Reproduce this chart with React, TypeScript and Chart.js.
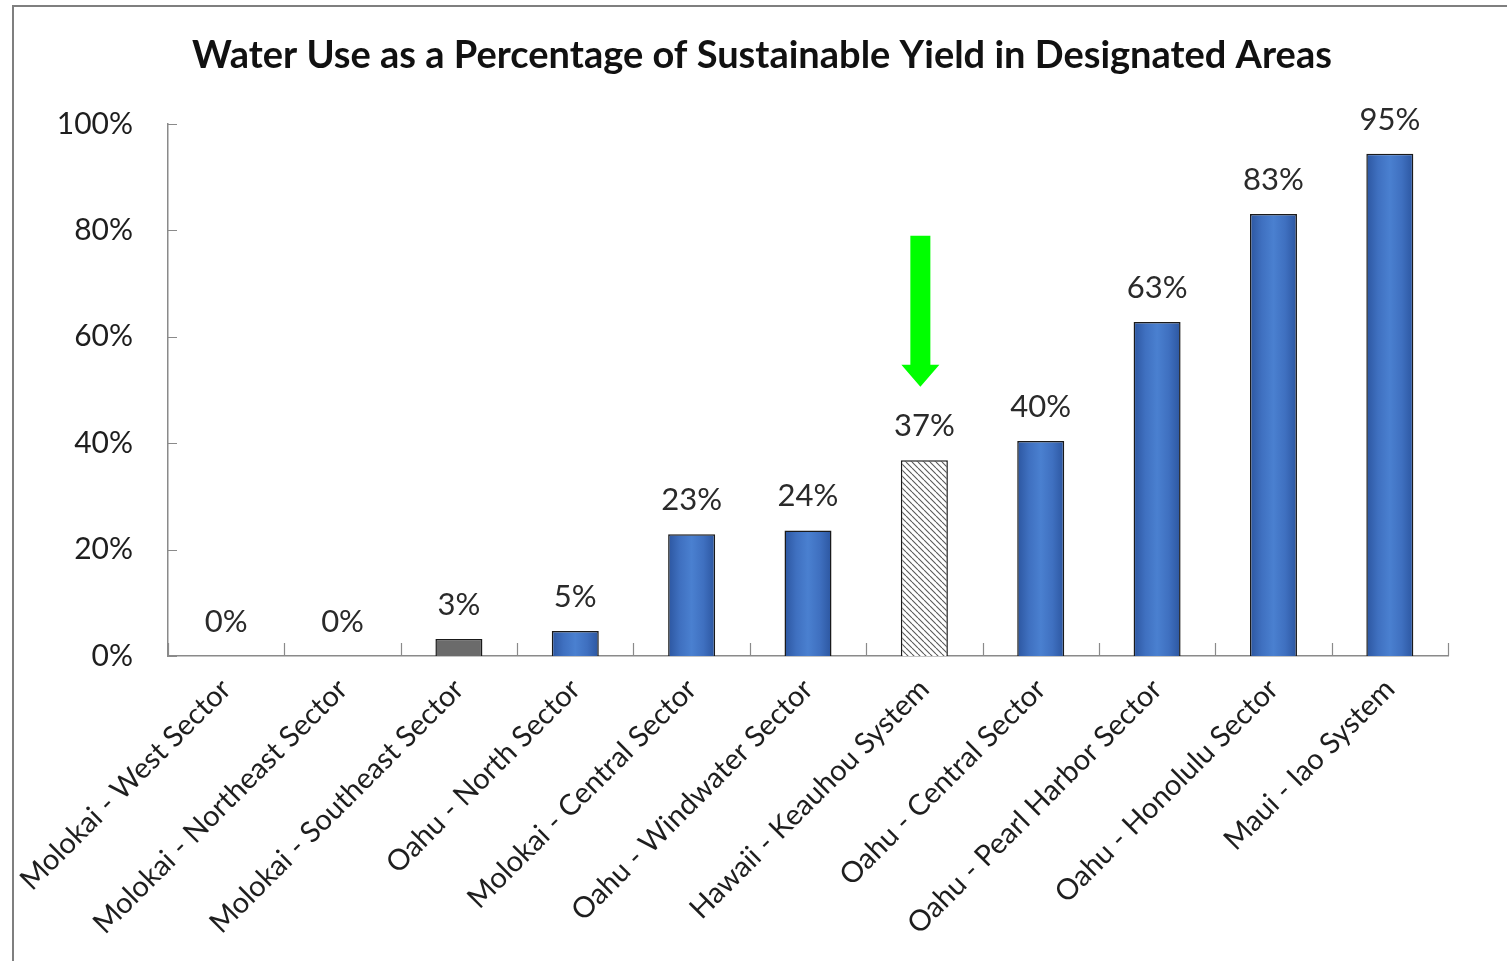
import React, { useEffect, useRef } from 'react';
import { Chart, registerables } from 'chart.js';

Chart.register(...registerables);

const TITLE = 'Water Use as a Percentage of Sustainable Yield in Designated Areas';

const categories = [
  'Molokai - West Sector',
  'Molokai - Northeast Sector',
  'Molokai - Southeast Sector',
  'Oahu - North Sector',
  'Molokai - Central Sector',
  'Oahu - Windwater Sector',
  'Hawaii - Keauhou System',
  'Oahu - Central Sector',
  'Oahu - Pearl Harbor Sector',
  'Oahu - Honolulu Sector',
  'Maui - Iao System',
];

const values = [0, 0, 3.2, 4.7, 22.9, 23.6, 36.8, 40.4, 62.8, 83.1, 94.4];

const valueLabels = ['0%', '0%', '3%', '5%', '23%', '24%', '37%', '40%', '63%', '83%', '95%'];

const barKinds = ['blue', 'blue', 'gray', 'blue', 'blue', 'blue', 'hatch', 'blue', 'blue', 'blue', 'blue'];

const yTicks = [0, 20, 40, 60, 80, 100];

const highlightIndex = 6;
const arrowTopValue = 79;
const arrowTipValue = 50.6;

const FONT = 'Lato, "Open Sans", sans-serif';
const BAR_FRACTION = 0.404;

function makeHatch(ctx: CanvasRenderingContext2D) {
  const c = document.createElement('canvas');
  c.width = 6;
  c.height = 6;
  const g = c.getContext('2d')!;
  g.fillStyle = '#ffffff';
  g.fillRect(0, 0, 6, 6);
  g.strokeStyle = '#5a5a5a';
  g.lineWidth = 1.1;
  g.beginPath();
  for (const o of [-6, 0, 6]) {
    g.moveTo(o, 0);
    g.lineTo(o + 6, 6);
  }
  g.stroke();
  return ctx.createPattern(c, 'repeat')!;
}

const decorPlugin = {
  id: 'decor',
  beforeDraw(chart: any) {
    const ctx = chart.ctx as CanvasRenderingContext2D;
    ctx.save();
    ctx.fillStyle = '#ffffff';
    ctx.fillRect(0, 0, chart.width, chart.height);
    // outer frame
    ctx.strokeStyle = '#7f7f7f';
    ctx.lineWidth = 2;
    ctx.beginPath();
    ctx.moveTo(13, chart.height);
    ctx.lineTo(13, 6);
    ctx.lineTo(chart.width, 6);
    ctx.stroke();
    // title
    ctx.fillStyle = '#111';
    ctx.font = `bold 38px ${FONT}`;
    ctx.textAlign = 'center';
    ctx.textBaseline = 'middle';
    ctx.fillText(TITLE, 762, 56);
    ctx.restore();
  },
  afterDraw(chart: any) {
    const ctx = chart.ctx as CanvasRenderingContext2D;
    const xs = chart.scales.x;
    const ys = chart.scales.y;
    const area = chart.chartArea;
    ctx.save();
    // inward ticks
    ctx.strokeStyle = '#8a8a8a';
    ctx.lineWidth = 1.2;
    ctx.beginPath();
    for (let i = 0; i <= categories.length; i++) {
      const x = Math.round(xs.getPixelForValue(i - 0.5)) + 0.5;
      ctx.moveTo(x, area.bottom);
      ctx.lineTo(x, area.bottom - 13);
    }
    for (const v of yTicks) {
      const y = Math.round(ys.getPixelForValue(v)) + 0.5;
      ctx.moveTo(area.left, y);
      ctx.lineTo(area.left + 9, y);
    }
    ctx.stroke();
    // data labels
    ctx.fillStyle = '#2a2a2a';
    ctx.font = `31px ${FONT}`;
    ctx.textAlign = 'center';
    ctx.textBaseline = 'middle';
    const meta = chart.getDatasetMeta(0);
    meta.data.forEach((bar: any, i: number) => {
      ctx.fillText(valueLabels[i], bar.x, bar.y - 34);
    });
    // green arrow
    const ax = xs.getPixelForValue(highlightIndex) - 4;
    const yTop = ys.getPixelForValue(arrowTopValue);
    const yTip = ys.getPixelForValue(arrowTipValue);
    const headH = 22;
    ctx.fillStyle = '#00ff00';
    ctx.beginPath();
    ctx.moveTo(ax - 10, yTop);
    ctx.lineTo(ax + 10, yTop);
    ctx.lineTo(ax + 10, yTip - headH);
    ctx.lineTo(ax + 19, yTip - headH);
    ctx.lineTo(ax, yTip);
    ctx.lineTo(ax - 19, yTip - headH);
    ctx.lineTo(ax - 10, yTip - headH);
    ctx.closePath();
    ctx.fill();
    ctx.restore();
  },
};

export default function App() {
  const ref = useRef<HTMLCanvasElement | null>(null);

  useEffect(() => {
    const canvas = ref.current!;
    const ctx = canvas.getContext('2d')!;
    const hatch = makeHatch(ctx);

    const fill = (c: any) => {
      const kind = barKinds[c.dataIndex];
      if (kind === 'gray') return '#6b6b6b';
      if (kind === 'hatch') return hatch;
      const xs = c.chart.scales?.x;
      if (!xs || !xs.width) return '#3f6fbf';
      const cx = xs.getPixelForValue(c.dataIndex);
      const w = (xs.width / categories.length) * BAR_FRACTION;
      const g = c.chart.ctx.createLinearGradient(cx - w / 2, 0, cx + w / 2, 0);
      g.addColorStop(0, '#2c56a0');
      g.addColorStop(0.25, '#3f70c0');
      g.addColorStop(0.5, '#4a80d0');
      g.addColorStop(0.75, '#3f70c0');
      g.addColorStop(1, '#2c56a0');
      return g;
    };

    const chart = new Chart(canvas, {
      type: 'bar',
      data: {
        labels: categories,
        datasets: [
          {
            data: values,
            backgroundColor: fill as any,
            borderColor: '#1a1a1a',
            borderWidth: 1.5,
            categoryPercentage: 1,
            barPercentage: BAR_FRACTION,
          },
        ],
      },
      options: {
        responsive: false,
        animation: false,
        layout: { padding: { top: 124, left: 0, right: 59, bottom: 0 } },
        plugins: {
          legend: { display: false },
          title: { display: false },
          tooltip: { enabled: false },
        },
        scales: {
          x: {
            grid: { display: false, drawTicks: false },
            border: { display: true, color: '#8a8a8a', width: 1.5 },
            ticks: {
              autoSkip: false,
              maxRotation: 45,
              minRotation: 45,
              padding: 16,
              color: '#1e1e1e',
              font: { family: FONT, size: 29 },
            },
            afterFit(scale: any) {
              scale.height = 305;
              scale.paddingLeft = 0;
              scale.paddingRight = 0;
            },
          },
          y: {
            min: 0,
            max: 100,
            grid: { display: false, drawTicks: false },
            border: { display: true, color: '#8a8a8a', width: 1.5 },
            afterBuildTicks(scale: any) {
              scale.ticks = yTicks.map((v) => ({ value: v }));
            },
            ticks: {
              padding: 35,
              color: '#1e1e1e',
              font: { family: FONT, size: 30 },
              callback: (v: any) => `${v}%`,
            },
            afterFit(scale: any) {
              scale.width = 168;
            },
          },
        },
      },
      plugins: [decorPlugin],
    });
    return () => chart.destroy();
  }, []);

  return (
    <div style={{ position: 'fixed', left: 0, top: 0, width: 1507, height: 961, background: '#fff' }}>
      <canvas ref={ref} width={1507} height={961} style={{ display: 'block' }} />
    </div>
  );
}
